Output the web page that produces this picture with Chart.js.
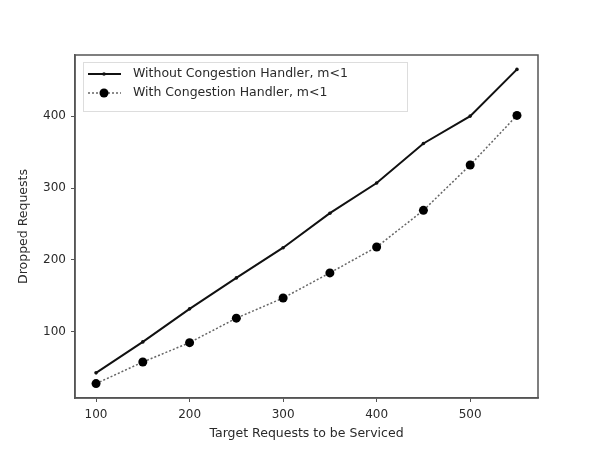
<!DOCTYPE html>
<html>
<head>
<meta charset="utf-8">
<script src="https://cdn.jsdelivr.net/npm/chart.js@4/dist/chart.umd.min.js"></script>
<style>
  html, body { margin: 0; padding: 0; background: #fff; }
  #wrap { width: 598px; height: 449px; }
</style>
</head>
<body>
<div id="wrap"><canvas id="myChart" width="598" height="449"></canvas></div>
<script>
// values
var targets = [100, 150, 200, 250, 300, 350, 400, 450, 500, 550];
var withoutHandler = [43, 86, 132, 175, 217, 265, 307, 362, 400, 465];
var withHandler = [28, 58, 85, 119, 147, 182, 218, 269, 332, 401];
var xTicks = [100, 200, 300, 400, 500];
var yTicks = [100, 200, 300, 400];
var labels = ['Without Congestion Handler, m<1', 'With Congestion Handler, m<1'];

var FONT = 'DejaVu Sans, sans-serif';
var TXT = '#2a2a2a';
var AXIS = '#555';

function pts(ys) {
    return targets.map(function(x, i) { return {x: x, y: ys[i]}; });
}

// frame around the plot area + legend box
var framePlugin = {
    id: 'frame',
    afterDraw: function(chart) {
        var c = chart.ctx, a = chart.chartArea;
        c.save();
        c.strokeStyle = AXIS;
        c.lineWidth = 1.5;
        c.strokeRect(a.left, a.top, a.right - a.left, a.bottom - a.top);

        // legend
        var lx = a.left + 8, ly = a.top + 7, lw = 324, lh = 49;
        c.fillStyle = 'rgba(255,255,255,0.85)';
        c.fillRect(lx, ly, lw, lh);
        c.strokeStyle = '#ddd';
        c.lineWidth = 1;
        c.strokeRect(lx + 0.5, ly + 0.5, lw, lh);
        var ds = chart.data.datasets;
        for (var i = 0; i < ds.length; i++) {
            var y = ly + 12 + i * 19;
            c.strokeStyle = ds[i].borderColor;
            c.lineWidth = ds[i].borderWidth;
            c.setLineDash(ds[i].borderDash || []);
            c.beginPath();
            c.moveTo(lx + 5, y);
            c.lineTo(lx + 38, y);
            c.stroke();
            c.setLineDash([]);
            c.fillStyle = ds[i].pointBackgroundColor;
            c.beginPath();
            c.arc(lx + 21, y, ds[i].pointRadius, 0, Math.PI * 2);
            c.fill();
            c.fillStyle = TXT;
            c.font = '12.5px ' + FONT;
            c.textBaseline = 'middle';
            c.fillText(ds[i].label, lx + 50, y);
        }
        c.restore();
    }
};

var graphData = {
    type: 'scatter',
    data: {
        datasets: [
            {
                label: labels[0],
                data: pts(withoutHandler),
                borderColor: '#111',
                backgroundColor: '#111',
                pointBackgroundColor: '#111',
                pointBorderWidth: 0,
                borderWidth: 2,
                pointRadius: 1.8,
                showLine: true,
            },
            {
                label: labels[1],
                data: pts(withHandler),
                borderColor: '#666',
                backgroundColor: '#000',
                pointBackgroundColor: '#000',
                pointBorderWidth: 0,
                borderWidth: 1.5,
                borderDash: [2, 2],
                pointRadius: 4.5,
                showLine: true,
            },
        ]
    },
    options: {
        animation: false,
        responsive: false,
        layout: {
            padding: {left: 16, right: 60, top: 55, bottom: 8}
        },
        plugins: {
            legend: {display: false},
            tooltip: {enabled: false},
        },
        scales: {
            x: {
                type: 'linear',
                min: 77.5,
                max: 572.5,
                afterBuildTicks: function(s) { s.ticks = xTicks.map(function(v) { return {value: v}; }); },
                afterFit: function(s) { s.height = 43; },
                grid: {drawOnChartArea: false, color: AXIS, tickLength: 4, tickWidth: 1},
                border: {color: AXIS, width: 1.5},
                ticks: {color: TXT, font: {family: FONT, size: 12}, padding: 6, maxRotation: 0},
                title: {display: true, text: 'Target Requests to be Serviced', color: TXT,
                        font: {family: FONT, size: 12.5}, padding: {top: 0, bottom: 0}},
            },
            y: {
                type: 'linear',
                min: 8,
                max: 485,
                afterBuildTicks: function(s) { s.ticks = yTicks.map(function(v) { return {value: v}; }); },
                afterFit: function(s) { s.width = 59; },
                grid: {drawOnChartArea: false, color: AXIS, tickLength: 4, tickWidth: 1},
                border: {color: AXIS, width: 1.5},
                ticks: {color: TXT, font: {family: FONT, size: 12}, padding: 5},
                title: {display: true, text: 'Dropped Requests', color: TXT,
                        font: {family: FONT, size: 12.5}, padding: {top: 0, bottom: 4}},
            },
        }
    },
    plugins: [framePlugin]
};

var myChart = new Chart(document.getElementById('myChart'), graphData);
</script>
</body>
</html>
